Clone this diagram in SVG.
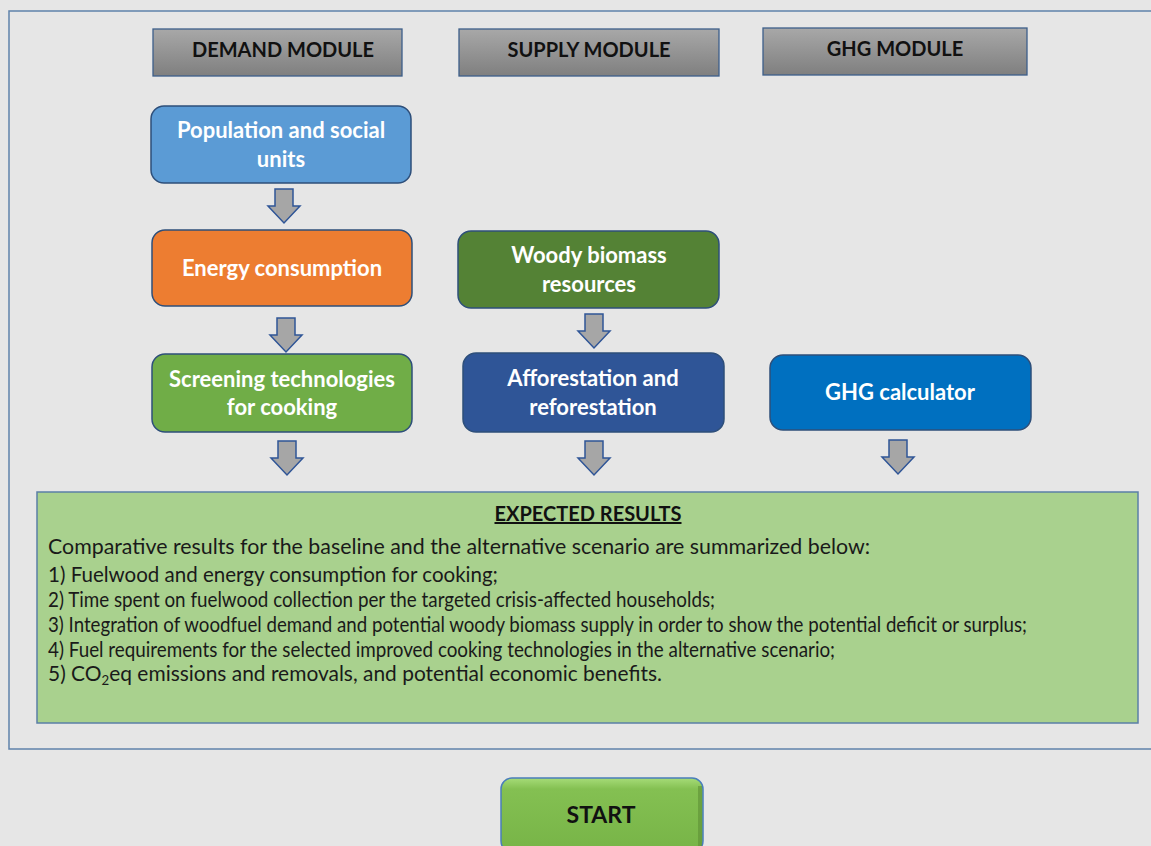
<svg xmlns="http://www.w3.org/2000/svg" xmlns:xlink="http://www.w3.org/1999/xlink" width="1151" height="846" viewBox="0 0 1151 846">
<style>
.hdr{stroke:#3d5f8a;stroke-width:1.3;fill:url(#gh)}
.hdrt{font-family:Lato,"Liberation Sans",sans-serif;font-weight:bold;font-size:20px;fill:#111;text-anchor:middle}
.node{stroke:#2e4f7a;stroke-width:1.5}
.nt{font-family:Lato,"Liberation Sans",sans-serif;font-weight:bold;font-size:22px;fill:#fff;text-anchor:middle}
.arr{fill:#a6a6a6;stroke:#2f5597;stroke-width:1.5;stroke-linejoin:miter}
.body{font-family:Lato,"Liberation Sans",sans-serif;font-size:20.5px;fill:#1a1a1a}
</style>
<defs>
<linearGradient id="gh" x1="0" y1="0" x2="0" y2="1">
<stop offset="0" stop-color="#a8a8a8"/>
<stop offset="1" stop-color="#7f7f7f"/>
</linearGradient>
<linearGradient id="gs" x1="0" y1="0" x2="0" y2="1">
<stop offset="0" stop-color="#a6dc78"/>
<stop offset="0.15" stop-color="#84c052"/>
<stop offset="1" stop-color="#77b447"/>
</linearGradient>
<path id="arrow" d="M-9,0 H9 V17 H16 L0,34 L-16,17 H-9 Z"/>
</defs>
<rect x="0" y="0" width="1151" height="846" fill="#e6e6e6"/>
<rect x="9" y="11" width="1160" height="738" fill="none" stroke="#5f82aa" stroke-width="1.5"/>

<g id="demand-module">
<rect class="hdr" x="153" y="29" width="249" height="47"/>
<text class="hdrt" x="283" y="57">DEMAND MODULE</text>
</g>
<g id="supply-module">
<rect class="hdr" x="459" y="29" width="260" height="47"/>
<text class="hdrt" x="589" y="57">SUPPLY MODULE</text>
</g>
<g id="ghg-module">
<rect class="hdr" x="763" y="28" width="264" height="47"/>
<text class="hdrt" x="895" y="56">GHG MODULE</text>
</g>

<g id="population">
<rect class="node" x="151" y="106" width="260" height="77" rx="13" fill="#5b9bd5"/>
<text class="nt" x="281" y="138">Population and social</text>
<text class="nt" x="281" y="167">units</text>
</g>
<g id="energy">
<rect class="node" x="152" y="230" width="260" height="76" rx="13" fill="#ed7d31"/>
<text class="nt" x="282" y="276">Energy consumption</text>
</g>
<g id="screening">
<rect class="node" x="152" y="354" width="260" height="78" rx="13" fill="#70ad47"/>
<text class="nt" x="282" y="387">Screening technologies</text>
<text class="nt" x="282" y="415">for cooking</text>
</g>
<g id="woody">
<rect class="node" x="458" y="231" width="261" height="77" rx="13" fill="#548235"/>
<text class="nt" x="589" y="263">Woody biomass</text>
<text class="nt" x="589" y="292">resources</text>
</g>
<g id="afforestation">
<rect class="node" x="463" y="353" width="261" height="79" rx="13" fill="#2f5597"/>
<text class="nt" x="593" y="386">Afforestation and</text>
<text class="nt" x="593" y="415">reforestation</text>
</g>
<g id="ghg-calculator">
<rect class="node" x="770" y="355" width="261" height="75" rx="13" fill="#0070c0"/>
<text class="nt" x="900" y="400">GHG calculator</text>
</g>

<g id="connectors">
<use xlink:href="#arrow" class="arr" transform="translate(284,189)"/>
<use xlink:href="#arrow" class="arr" transform="translate(286,318)"/>
<use xlink:href="#arrow" class="arr" transform="translate(287,441)"/>
<use xlink:href="#arrow" class="arr" transform="translate(594,314)"/>
<use xlink:href="#arrow" class="arr" transform="translate(594,441)"/>
<use xlink:href="#arrow" class="arr" transform="translate(898,440)"/>
</g>

<g id="expected-results">
<rect x="37" y="492" width="1101" height="231" fill="#a9d18e" stroke="#5b7fa6" stroke-width="1.5"/>
<text x="588" y="521" font-family="Lato,'Liberation Sans',sans-serif" font-weight="bold" font-size="20px" fill="#111" text-anchor="middle" text-decoration="underline">EXPECTED RESULTS</text>
<text class="body" x="48" y="554" textLength="822" lengthAdjust="spacingAndGlyphs">Comparative results for the baseline and the alternative scenario are summarized below:</text>
<text class="body" x="48" y="582" textLength="450" lengthAdjust="spacingAndGlyphs">1) Fuelwood and energy consumption for cooking;</text>
<text class="body" x="48" y="607" textLength="667" lengthAdjust="spacingAndGlyphs">2) Time spent on fuelwood collection per the targeted crisis-affected households;</text>
<text class="body" x="48" y="632" textLength="979" lengthAdjust="spacingAndGlyphs">3) Integration of woodfuel demand and potential woody biomass supply in order to show the potential deficit or surplus;</text>
<text class="body" x="48" y="657" textLength="787" lengthAdjust="spacingAndGlyphs">4) Fuel requirements for the selected improved cooking technologies in the alternative scenario;</text>
<text class="body" x="48" y="681" textLength="614" lengthAdjust="spacingAndGlyphs">5) CO<tspan font-size="13px" dy="4">2</tspan><tspan dy="-4">eq emissions and removals, and potential economic benefits.</tspan></text>
</g>

<g id="start">
<rect x="501" y="778" width="202" height="74" rx="11" fill="url(#gs)" stroke="#4a7ebb" stroke-width="1.5"/>
<rect x="698" y="786" width="4" height="60" fill="#5e8f36" opacity="0.6"/>
<text x="601" y="823" font-family="Lato,'Liberation Sans',sans-serif" font-weight="bold" font-size="23px" fill="#111" text-anchor="middle">START</text>
</g>
</svg>
